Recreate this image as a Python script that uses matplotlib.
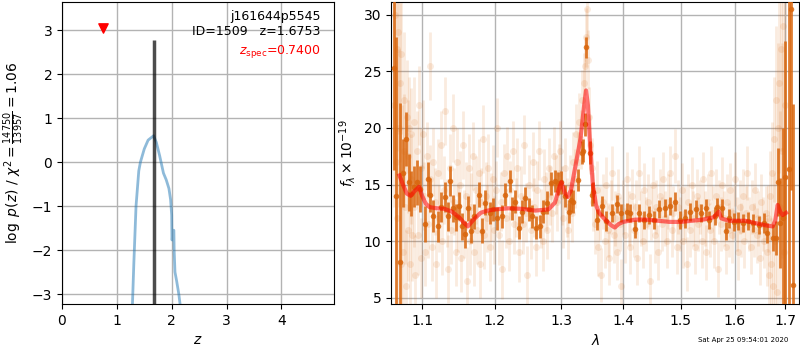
import matplotlib
matplotlib.use("Agg")
import matplotlib.pyplot as plt
from matplotlib.ticker import FixedLocator, FixedFormatter, NullLocator

# ---------------- left panel data: p(z) ----------------
pz_z = [1.28, 1.31, 1.35, 1.40, 1.43, 1.50, 1.57, 1.62, 1.67, 1.72, 1.78, 1.85, 1.90, 1.95, 1.98, 2.00, 2.005, 2.01, 2.02, 2.04, 2.045, 2.06, 2.09, 2.13, 2.17]
pz_logp = [-3.4, -2.3, -1.0, -0.2, 0.0, 0.3, 0.5, 0.55, 0.6, 0.45, 0.15, -0.25, -0.4, -0.6, -0.85, -1.2, -1.77, -1.77, -1.55, -1.55, -2.0, -2.5, -2.7, -3.0, -3.4]
z_best = 1.6753
z_best_top = 2.77
z_spec = 0.74
z_spec_y = 3.05

# ---------------- right panel data: spectrum ----------------
bin_wave = [1.0637, 1.0667, 1.0707, 1.0756, 1.0795, 1.0827, 1.0859, 1.0900, 1.0931, 1.0975,
            1.1034, 1.1079, 1.1100, 1.1145, 1.1212, 1.1252, 1.1312, 1.1344, 1.1373, 1.1413,
            1.1454, 1.1496, 1.1537, 1.1579, 1.1621, 1.1663, 1.1713, 1.1777, 1.1819, 1.1863,
            1.1930, 1.1980, 1.2035, 1.2107, 1.2155, 1.2218, 1.2253, 1.2302, 1.2352, 1.2403,
            1.2452, 1.2502, 1.2553, 1.2604, 1.2670, 1.2722, 1.2785, 1.2836, 1.2900, 1.2942,
            1.2994, 1.3050, 1.3112, 1.3156, 1.3180, 1.3266, 1.3320, 1.3340, 1.3377, 1.3395,
            1.3460, 1.3487, 1.3505, 1.3560, 1.3643, 1.3716, 1.3810, 1.3894, 1.3962, 1.4065,
            1.4123, 1.4203, 1.4267, 1.4355, 1.4444, 1.4533, 1.4623, 1.4713, 1.4804, 1.4896,
            1.4988, 1.5081, 1.5175, 1.5269, 1.5364, 1.5459, 1.5523, 1.5621, 1.5674, 1.5753,
            1.5839, 1.5900, 1.5988, 1.6076, 1.6158, 1.6262, 1.6367, 1.6473, 1.6580, 1.6638,
            1.6759, 1.6810, 1.6860, 1.6890, 1.6960, 1.7000, 1.7070, 1.7115, 1.7165]
bin_flux = [25.3, 14.0, 8.2, 16.0, 19.0, 15.2, 14.2, 14.8, 15.2, 14.6,
            11.5, 15.5, 14.1, 12.2, 11.3, 13.0, 13.9, 12.2, 15.3, 12.9,
            12.1, 13.1, 11.3, 10.6, 12.9, 10.9, 12.2, 14.1, 10.9, 13.4,
            12.5, 12.8, 12.0, 12.2, 14.1, 15.3, 12.9, 13.5, 11.2, 12.6,
            13.8, 12.8, 12.2, 11.2, 11.3, 12.6, 13.4, 15.1, 15.3, 15.1,
            15.2, 14.0, 12.6, 13.6, 13.5, 15.4, 17.8, 18.0, 20.3, 27.1,
            17.8, 14.1, 14.3, 11.9, 13.1, 11.8, 12.5, 13.3, 12.5, 12.6,
            12.5, 11.1, 12.5, 11.9, 12.3, 11.9, 12.8, 12.9, 13.1, 13.5,
            11.9, 12.0, 12.6, 12.8, 12.5, 12.9, 11.9, 12.2, 13.0, 12.9,
            10.9, 12.0, 11.7, 11.8, 11.6, 11.8, 11.6, 11.4, 11.6, 10.7,
            10.3, 10.3, 15.2, 11.6, 12.0, 15.7, 16.4, 30.5, 6.1]
bin_err = [9.0, 14.0, 14.0, 3.0, 2.4, 2.5, 2.0, 1.8, 2.0, 2.0,
           1.6, 1.5, 1.5, 1.4, 1.4, 1.3, 1.3, 1.3, 1.3, 1.2,
           1.2, 1.2, 1.2, 1.2, 1.1, 1.1, 1.1, 1.1, 1.1, 1.1,
           1.0, 1.0, 1.0, 1.0, 1.0, 1.0, 1.0, 1.0, 1.0, 1.0,
           1.0, 1.0, 1.0, 1.0, 1.0, 1.0, 1.0, 1.0, 1.0, 1.0,
           1.0, 1.0, 1.0, 1.0, 1.0, 1.0, 1.0, 1.0, 1.0, 0.9,
           1.0, 1.0, 0.9, 0.9, 0.9, 0.9, 0.8, 0.8, 0.8, 0.8,
           0.8, 0.8, 0.8, 0.8, 0.8, 0.8, 0.8, 0.8, 0.8, 0.8,
           0.8, 0.8, 0.8, 0.8, 0.8, 0.8, 0.8, 0.8, 0.8, 0.8,
           0.8, 0.8, 0.8, 0.8, 0.8, 0.8, 0.8, 0.8, 0.9, 0.9,
           1.2, 1.5, 3.0, 4.0, 8.0, 12.0, 16.0, 16.0, 16.0]

faint_wave = [1.063, 1.065, 1.066, 1.067, 1.068, 1.069, 1.070, 1.071, 1.072, 1.073,
              1.074, 1.075, 1.076, 1.077, 1.078, 1.079, 1.080, 1.081, 1.082, 1.083,
              1.084, 1.085, 1.086, 1.087, 1.089, 1.090, 1.091, 1.093, 1.094, 1.096,
              1.098, 1.099,
              1.101, 1.103, 1.104, 1.106, 1.108, 1.110, 1.111, 1.113, 1.115, 1.117,
              1.119, 1.121, 1.123, 1.125, 1.127, 1.129, 1.131, 1.133, 1.135, 1.137,
              1.139, 1.141, 1.143, 1.145, 1.147, 1.149, 1.151, 1.153, 1.155, 1.157,
              1.159, 1.161, 1.163, 1.165, 1.167, 1.169, 1.171, 1.173, 1.175, 1.177,
              1.179, 1.181, 1.183, 1.185, 1.187, 1.189, 1.191, 1.193, 1.195, 1.197,
              1.199,
              1.202, 1.204, 1.206, 1.209, 1.211, 1.213, 1.216, 1.218, 1.221, 1.223,
              1.226, 1.228, 1.231, 1.233, 1.236, 1.238, 1.241, 1.243, 1.246, 1.248,
              1.251, 1.253, 1.256, 1.258, 1.261, 1.263, 1.266, 1.268, 1.271, 1.273,
              1.276, 1.278, 1.281, 1.283, 1.286, 1.288, 1.291, 1.293, 1.296, 1.298,
              1.301, 1.303, 1.306, 1.308, 1.311, 1.313, 1.316, 1.318, 1.321, 1.323,
              1.326, 1.328, 1.331, 1.333, 1.335, 1.337, 1.339, 1.340, 1.342, 1.344,
              1.346, 1.349, 1.351, 1.354, 1.356, 1.359,
              1.362, 1.364, 1.367, 1.369, 1.372, 1.374, 1.377, 1.379, 1.382, 1.384,
              1.387, 1.389, 1.392, 1.395, 1.397, 1.400, 1.403, 1.406, 1.409, 1.412,
              1.415, 1.418, 1.421, 1.424, 1.427, 1.430, 1.433, 1.436, 1.439, 1.442,
              1.445, 1.448, 1.451, 1.454, 1.457, 1.460, 1.463, 1.466, 1.469, 1.472,
              1.475, 1.478, 1.481, 1.484, 1.487, 1.490, 1.493, 1.496, 1.499,
              1.502, 1.505, 1.508, 1.511, 1.514, 1.517, 1.520, 1.523, 1.526, 1.529,
              1.532, 1.535, 1.538, 1.541, 1.544, 1.547, 1.550, 1.553, 1.556, 1.559,
              1.562, 1.565, 1.568, 1.571, 1.574, 1.577, 1.580, 1.583, 1.586, 1.589,
              1.592, 1.595, 1.598, 1.601, 1.604, 1.607, 1.610, 1.613, 1.616, 1.619,
              1.622, 1.625, 1.628, 1.631, 1.634, 1.637, 1.640, 1.643, 1.646, 1.649,
              1.652, 1.655, 1.658, 1.661,
              1.664, 1.666, 1.668, 1.670, 1.672, 1.674, 1.676, 1.678, 1.680, 1.682,
              1.684, 1.686, 1.688, 1.690, 1.692, 1.694, 1.696, 1.698, 1.700]
faint_flux = [22, 30, 17, 27, 12, 28.5, 20, 24, 8, 26.5,
              16, 9, 22.5, 18, 13, 6, 21, 17.5, 11, 20,
              8, 19.5, 15.5, 10.5, 20.5, 13, 7, 18, 10.5, 22,
              16.5, 8.5,
              19.5, 14, 9, 17.5, 11.5, 25.5, 15.5, 9.5, 17, 13.5,
              8, 16, 12, 18.5, 10, 14.5, 21.5, 12.5, 7.5, 16.5,
              11, 20, 13.5, 9, 17, 12, 15, 8.5, 18.5, 11.5,
              14, 6.5, 16.5, 10, 13, 17.5, 9, 14.5, 11, 16,
              8, 13.5, 19, 10.5, 14, 12, 16.5, 9.5, 13, 15.5,
              11,
              14.5, 20, 10.5, 13.5, 7.5, 16, 12, 17.5, 10, 14.5,
              18, 11.5, 13, 16.5, 9, 14, 11.5, 18.5, 12.5, 7,
              15, 11, 17, 13, 9.5, 14.5, 18, 12, 10, 15.5,
              13.5, 11, 16.5, 14, 12.5, 17.5, 15, 13.5, 16, 18,
              14, 12, 16.5, 13, 11, 15, 12.5, 17, 15.5, 19.5,
              17, 20.5, 19, 22.5, 24, 25.5, 28, 30.5, 26, 21,
              18.5, 16.5, 13.5, 11.5, 14.5, 9.5,
              12.5, 7, 13.5, 10, 15, 11, 8.5, 13, 16, 10.5,
              12, 9, 14, 11.5, 6, 13, 10.5, 15.5, 12, 9.5,
              14, 11, 13, 8.5, 16, 12, 10, 14.5, 11.5, 13.5,
              6.5, 12.5, 15, 10.5, 13, 9, 14, 11.5, 15.5, 12,
              10, 13.5, 16, 11, 12.5, 17.5, 9.5, 13, 11.5,
              14.5, 10, 12.5, 8, 13.5, 11, 15, 12, 9.5, 14,
              11.5, 13, 10, 15.5, 12, 9, 13.5, 11, 16, 12.5,
              10, 14, 7.5, 13, 11.5, 15, 12, 9.5, 13.5, 11,
              14.5, 10.5, 12.5, 15.5, 11.5, 9, 13, 11, 14, 10,
              12.5, 16, 11.5, 9.5, 13, 11, 14.5, 10.5, 12, 8.5,
              13.5, 11.5, 10, 12.5,
              9, 12, 7, 14, 8, 16, 6, 19, 10, 22.5,
              5.5, 20, 24, 13, 27, 18, 29, 9, 22]
faint_err = [9, 10, 9, 9, 8, 9, 7, 7, 7, 7,
             6, 6, 6, 5, 5, 5, 5, 5, 4.5, 4.5,
             4.5, 4, 4, 4, 4, 3.5, 3.5, 3.5, 3.5, 3.5,
             3.5, 3.5] + [3.0] * 51 + [2.6] * 40 + [2.6] * 26 + [2.4] * 49 + [2.4] * 54 + \
            [3, 3, 3.5, 4, 4, 4.5, 5, 5.5, 6, 6.5, 7, 7.5, 8, 8.5, 9, 9.5, 10, 10, 10]

model_wave = [1.0705, 1.075, 1.080, 1.085, 1.090, 1.096, 1.100, 1.105, 1.110, 1.120,
              1.130, 1.140, 1.150, 1.157, 1.162, 1.170, 1.180, 1.190, 1.200, 1.220,
              1.240, 1.260, 1.280, 1.290, 1.297, 1.300, 1.305, 1.310, 1.315, 1.320,
              1.330, 1.336, 1.339, 1.342, 1.346, 1.350, 1.355, 1.360, 1.370, 1.380,
              1.386, 1.392, 1.400, 1.420, 1.440, 1.460, 1.480, 1.500, 1.520, 1.540,
              1.560, 1.566, 1.570, 1.575, 1.590, 1.620, 1.640, 1.660, 1.675, 1.680,
              1.685, 1.690, 1.695, 1.702]
model_flux = [15.8, 15.0, 14.2, 14.0, 14.4, 14.8, 14.0, 13.3, 13.0, 12.9,
              12.85, 12.6, 12.1, 11.6, 11.3, 11.9, 12.5, 12.7, 12.8, 12.9,
              12.85, 12.7, 12.8, 13.4, 14.8, 15.2, 14.3, 13.9, 14.5, 16.0,
              19.0, 22.0, 23.3, 22.0, 18.0, 15.0, 13.2, 12.5, 11.9, 11.4,
              11.2, 11.5, 11.7, 11.9, 11.9, 11.8, 11.7, 11.7, 11.8, 11.9,
              12.1, 12.4, 12.6, 12.0, 11.8, 11.8, 11.6, 11.4, 11.3, 11.8,
              13.2, 12.6, 12.3, 12.5]

xtick_vals = [1.1, 1.2, 1.3, 1.4, 1.5, 1.6, 1.7]
xtick_labels = ["1.1", "1.2", "1.3", "1.4", "1.5", "1.6", "1.7"]

title_name = "j161644p5545"
title_id = "ID=1509   z=1.6753"
spec_label = r"$z_\mathrm{spec}$=0.7400"
timestamp = "Sat Apr 25 09:54:01 2020"

# ---------------- figure ----------------
fig = plt.figure(figsize=(8, 3.5), dpi=100)
ax1 = fig.add_axes([0.0775, 0.131, 0.340, 0.863])
ax2 = fig.add_axes([0.489, 0.131, 0.510, 0.863])

grid_kw = dict(color="0.7", linewidth=1.0)

# left panel
ax1.plot(pz_z, pz_logp, color="tab:blue", alpha=0.5, lw=2)
ax1.vlines(z_best, -3.5, z_best_top, color="k", alpha=0.7, lw=2.5)
ax1.scatter([z_spec], [z_spec_y], marker="v", color="red", s=45, zorder=5)
ax1.set_xlim(0, 4.96)
ax1.set_ylim(-3.23, 3.64)
ax1.set_xticks([0, 1, 2, 3, 4])
ax1.set_yticks([-3, -2, -1, 0, 1, 2, 3])
ax1.grid(True, **grid_kw)
ax1.set_axisbelow(True)
ax1.set_xlabel("$z$", fontsize=10)
ax1.set_ylabel(r"$\log\ p(z)$ / $\chi^2=\frac{14750}{13957}=1.06$", fontsize=10)
ax1.text(0.95, 0.975, title_name, transform=ax1.transAxes, ha="right", va="top", fontsize=9)
ax1.text(0.95, 0.925, title_id, transform=ax1.transAxes, ha="right", va="top", fontsize=9)
ax1.text(0.95, 0.865, spec_label, transform=ax1.transAxes, ha="right", va="top",
         fontsize=9, color="red")
ax1.tick_params(labelsize=10)

# right panel
orange = (0.85, 0.40, 0.05)
ax2.errorbar(faint_wave, faint_flux, yerr=faint_err, fmt="o", color=orange,
             alpha=0.13, markersize=5, elinewidth=2, capsize=0, markeredgewidth=0)
ax2.errorbar(bin_wave, bin_flux, yerr=bin_err, fmt="o", color=orange,
             alpha=0.85, markersize=4, elinewidth=2, capsize=0, markeredgewidth=0, zorder=4)
ax2.plot(model_wave, model_flux, color="red", alpha=0.55, lw=3, zorder=5)
ax2.set_xscale("log")
ax2.set_xlim(1.060, 1.729)
ax2.set_ylim(4.44, 31.1)
ax2.xaxis.set_major_locator(FixedLocator(xtick_vals))
ax2.xaxis.set_major_formatter(FixedFormatter(xtick_labels))
ax2.xaxis.set_minor_locator(NullLocator())
ax2.set_yticks([5, 10, 15, 20, 25, 30])
ax2.grid(True, **grid_kw)
ax2.set_axisbelow(True)
ax2.set_xlabel(r"$\lambda$", fontsize=10)
ax2.set_ylabel(r"$f_\lambda\times10^{-19}$", fontsize=10)
ax2.tick_params(labelsize=10)

fig.text(0.929, 0.029, timestamp, ha="center", va="center", fontsize=5)

fig.savefig("out.png", dpi=100)
